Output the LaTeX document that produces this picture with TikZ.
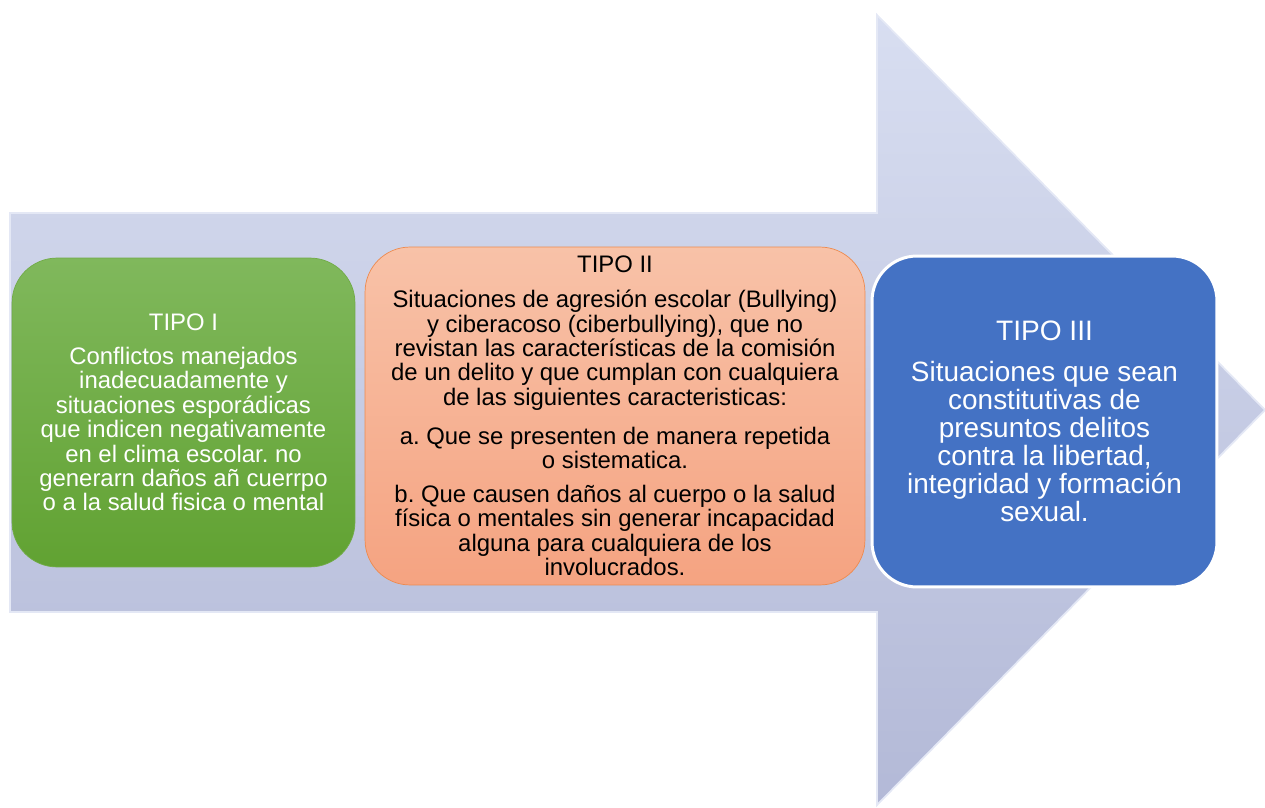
\documentclass[tikz,border=0pt]{standalone}
\usepackage{fontspec}
\setmainfont{Liberation Sans}
\usetikzlibrary{positioning}
\definecolor{arrowtop}{HTML}{D8DEF1}
\definecolor{arrowbot}{HTML}{B3B9D7}
\definecolor{arrowedge}{HTML}{E4E8F5}
\definecolor{greentop}{HTML}{80B85C}
\definecolor{greenbot}{HTML}{61A232}
\definecolor{orangetop}{HTML}{F8C2A8}
\definecolor{orangebot}{HTML}{F5A381}
\definecolor{orangeedge}{HTML}{EE8A4E}
\definecolor{bluefill}{HTML}{4472C4}
\frenchspacing

\begin{document}
\begin{tikzpicture}[
  x=0.02cm, y=-0.02cm,
  tipobox/.style={rounded corners=0.9cm, align=center, inner sep=0pt},
  bodyfont/.style={font=\fontsize{13.6}{13.9}\selectfont},
  bigfont/.style={font=\fontsize{15.9}{16}\selectfont}
]
\useasboundingbox (0,0) rectangle (1265,808);

% Big arrow behind the three types
\shade[top color=arrowtop, bottom color=arrowbot, draw=arrowedge, line width=1pt]
  (10,213) -- (877,213) -- (877,15) -- (1265,410) -- (877,805) -- (877,612) -- (10,612) -- cycle;

% TIPO I
\node[tipobox, bodyfont, top color=greentop, bottom color=greenbot, draw=greenbot!90!white,
  text=white, minimum width=6.86cm, minimum height=6.18cm] (tipoI) at (183.5,412.5)
  {TIPO I\\[5.4pt]
   Conflictos manejados\\
   inadecuadamente y\\
   situaciones esporádicas\\
   que indicen negativamente\\
   en el clima escolar. no\\
   generarn daños añ cuerrpo\\
   o a la salud fisica o mental};

% TIPO II
\node[tipobox, bodyfont, top color=orangetop, bottom color=orangebot, draw=orangeedge,
  text=black, minimum width=10cm, minimum height=6.76cm] (tipoII) at (615,416)
  {TIPO II\\[6pt]
   Situaciones de agresión escolar (Bullying)\\
   y ciberacoso (ciberbullying), que no\\
   revistan las características de la comisión\\
   de un delito y que cumplan con cualquiera\\
   de las siguientes caracteristicas:\\[8.2pt]
   a. Que se presenten de manera repetida\\
   o sistematica.\\[5.4pt]
   b. Que causen daños al cuerpo o la salud\\
   física o mentales sin generar incapacidad\\
   alguna para cualquiera de los\\
   involucrados.};

% TIPO III
\node[tipobox, bigfont, fill=bluefill, draw=white, line width=1.7pt,
  text=white, minimum width=6.9cm, minimum height=6.62cm] (tipoIII) at (1044.5,421.5)
  {{\fontsize{16}{16}\selectfont TIPO III}\\[7pt]
   Situaciones que sean\\
   constitutivas de\\
   presuntos delitos\\
   contra la libertad,\\
   integridad y formación\\
   sexual.};

\end{tikzpicture}
\end{document}
